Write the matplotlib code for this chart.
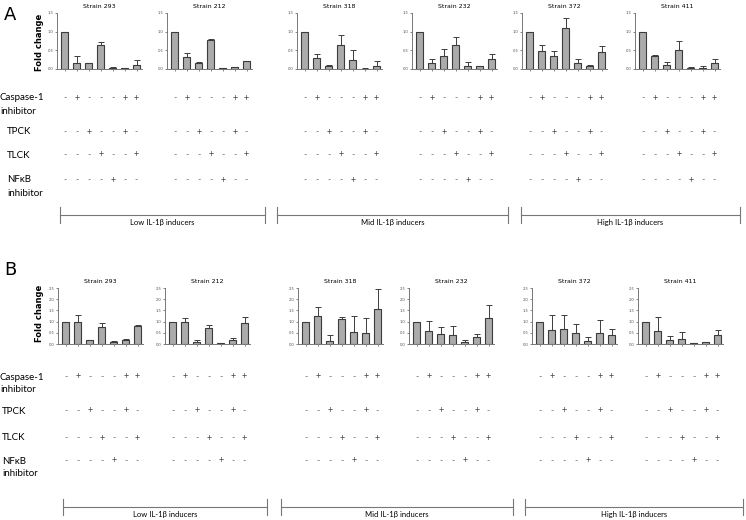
import numpy as np
import matplotlib
matplotlib.use("Agg")
import matplotlib.pyplot as plt
import matplotlib.transforms as mtransforms
from matplotlib.lines import Line2D

plt.rcParams['font.family'] = ['Lato', 'DejaVu Sans']

# ---------------------------------------------------------------------
# data (fold change, upper error bar end)
# ---------------------------------------------------------------------
strains = ["Strain 293", "Strain 212", "Strain 318", "Strain 232", "Strain 372", "Strain 411"]

a_means = [
    [1.0, 0.15, 0.15, 0.63, 0.03, 0.02, 0.11],
    [1.0, 0.33, 0.16, 0.78, 0.02, 0.05, 0.21],
    [1.0, 0.30, 0.07, 0.63, 0.24, 0.01, 0.09],
    [1.0, 0.15, 0.35, 0.63, 0.09, 0.07, 0.27],
    [1.0, 0.47, 0.34, 1.11, 0.15, 0.09, 0.46],
    [1.0, 0.35, 0.10, 0.51, 0.04, 0.03, 0.17],
]
a_tops = [
    [1.0, 0.34, 0.17, 0.73, 0.05, 0.03, 0.24],
    [1.0, 0.43, 0.20, 0.81, 0.03, 0.06, 0.22],
    [1.0, 0.39, 0.10, 0.90, 0.51, 0.02, 0.22],
    [1.0, 0.27, 0.54, 0.87, 0.19, 0.08, 0.40],
    [1.0, 0.65, 0.47, 1.36, 0.28, 0.10, 0.62],
    [1.0, 0.37, 0.19, 0.74, 0.06, 0.07, 0.28],
]

b_means = [
    [1.0, 1.00, 0.17, 0.76, 0.07, 0.19, 0.80],
    [1.0, 1.00, 0.10, 0.70, 0.03, 0.20, 0.95],
    [1.0, 1.25, 0.15, 1.10, 0.52, 0.49, 1.58],
    [1.0, 0.60, 0.45, 0.42, 0.10, 0.30, 1.18],
    [1.0, 0.63, 0.65, 0.48, 0.12, 0.49, 0.42],
    [1.0, 0.57, 0.19, 0.22, 0.03, 0.08, 0.42],
]
b_tops = [
    [1.0, 1.30, 0.20, 0.95, 0.15, 0.22, 0.85],
    [1.0, 1.15, 0.20, 0.85, 0.04, 0.27, 1.20],
    [1.0, 1.67, 0.39, 1.22, 1.25, 1.17, 2.47],
    [1.0, 1.01, 0.77, 0.81, 0.20, 0.45, 1.75],
    [1.0, 1.30, 1.30, 0.90, 0.32, 1.06, 0.65],
    [1.0, 1.22, 0.35, 0.55, 0.05, 0.10, 0.62],
]

treat_names = ["Caspase-1", "TPCK", "TLCK", "NF\u03baB"]
treat_signs = [
    ["-", "+", "-", "-", "-", "+", "+"],
    ["-", "-", "+", "-", "-", "+", "-"],
    ["-", "-", "-", "+", "-", "-", "+"],
    ["-", "-", "-", "-", "+", "-", "-"],
]
groups = ["Low IL-1\u03b2 inducers", "Mid IL-1\u03b2 inducers", "High IL-1\u03b2 inducers"]

# ---------------------------------------------------------------------
# layout in pixels
# ---------------------------------------------------------------------
W, H = 746, 520
fig = plt.figure(figsize=(W / 100, H / 100), dpi=100, facecolor='white')

def fx(px): return px / W
def fy(py): return 1 - py / H

panels = [
    dict(label="A", means=a_means, tops=a_tops, ymax=1.5, yt=np.arange(0, 1.51, 0.5),
         lefts=[57, 167, 297, 412, 522, 635], top=13, bot=69, lab_y=15, fold_y=42,
         rows=[98, 132, 155, 180], name_x=[0, 7, 7, 7], inh_dy=14,
         br_y=215, br=[(60, 265), (277, 508), (521, 740)]),
    dict(label="B", means=b_means, tops=b_tops, ymax=2.5, yt=np.arange(0, 2.51, 0.5),
         lefts=[58, 165, 298, 409, 532, 638], top=288, bot=344, lab_y=270, fold_y=313,
         rows=[377, 411, 438, 461], name_x=[0, 2, 2, 2], inh_dy=13,
         br_y=507, br=[(63, 267), (281, 513), (525, 743)]),
]

x = np.arange(7)
for p in panels:
    fig.text(fx(4), fy(p['lab_y']), p['label'], fontsize=13, family='DejaVu Sans',
             va='center', ha='left')
    fig.text(fx(40), fy(p['fold_y']), "Fold change", fontsize=6, family='DejaVu Sans',
             fontweight='bold', rotation=90, va='center', ha='center')
    for k, left in enumerate(p['lefts']):
        ax = fig.add_axes([fx(left), fy(p['bot']), 85 / W, (p['bot'] - p['top']) / H])
        m = np.array(p['means'][k])
        t = np.array(p['tops'][k])
        ax.bar(x, m, width=0.62, color='#ababab', edgecolor='#3c3c3c', linewidth=0.8, zorder=2)
        ax.errorbar(x, m, yerr=[np.zeros(7), t - m], fmt='none', ecolor='#3c3c3c',
                    elinewidth=0.7, capsize=2, capthick=0.7, zorder=1)
        ax.set_xlim(-0.65, 6.45)
        ax.set_ylim(0, p['ymax'])
        ax.set_yticks(p['yt'])
        ax.set_yticklabels(["%.1f" % v for v in p['yt']])
        ax.set_xticks(x)
        ax.set_xticklabels([])
        ax.tick_params(labelsize=3, length=1.5, width=0.5, pad=1, colors='#555555')
        for s in ['top', 'right']:
            ax.spines[s].set_visible(False)
        for s in ['left', 'bottom']:
            ax.spines[s].set_color('#777777')
            ax.spines[s].set_linewidth(0.7)
        ax.set_title(strains[k], fontsize=4.5, pad=3.5, family='DejaVu Sans')

        # +/- treatment table under each strain, aligned with the bars
        tr = mtransforms.blended_transform_factory(ax.transData, fig.transFigure)
        for r, row_y in enumerate(p['rows']):
            for i, s in enumerate(treat_signs[r]):
                ax.text(x[i], fy(row_y), s, transform=tr, fontsize=6.5, ha='center',
                        va='center', color='#444444' if s == '+' else '#777777',
                        clip_on=False)

    # treatment names
    for r, row_y in enumerate(p['rows']):
        fig.text(fx(p['name_x'][r]), fy(row_y), treat_names[r], fontsize=7, va='center', ha='left')
    fig.text(fx(0), fy(p['rows'][0] + p['inh_dy']), "inhibitor", fontsize=7, va='center', ha='left')
    fig.text(fx(p['name_x'][3]), fy(p['rows'][3] + p['inh_dy']), "inhibitor", fontsize=7,
             va='center', ha='left')

    # group brackets
    by = p['br_y']
    for g, (x0, x1) in enumerate(p['br']):
        fig.add_artist(Line2D([fx(x0), fx(x1)], [fy(by), fy(by)], color='#777777', lw=0.8))
        for xe in (x0, x1):
            fig.add_artist(Line2D([fx(xe), fx(xe)], [fy(by - 8), fy(by + 8)], color='#777777', lw=0.8))
        fig.text(fx((x0 + x1) / 2), fy(by + 8), groups[g], fontsize=5.5, ha='center', va='center')

plt.savefig("out.png", dpi=100, facecolor='white')
